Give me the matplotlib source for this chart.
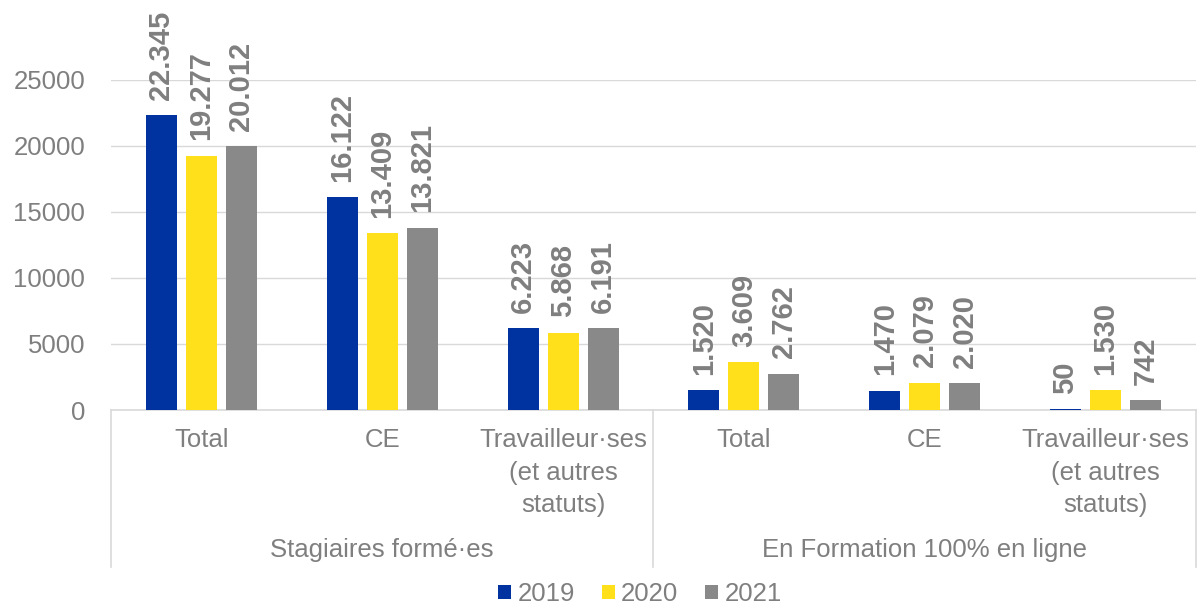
import matplotlib
matplotlib.use("Agg")
import matplotlib.pyplot as plt
import matplotlib.transforms as mtransforms
from matplotlib.patches import Patch
import numpy as np

plt.rcParams['font.family'] = ['Liberation Sans', 'DejaVu Sans']

categories = ["Total", "CE", "Travailleur·ses\n(et autres\nstatuts)",
              "Total", "CE", "Travailleur·ses\n(et autres\nstatuts)"]
groups = ["Stagiaires formé·es", "En Formation 100% en ligne"]
years = ["2019", "2020", "2021"]
v2019 = [22345, 16122, 6223, 1520, 1470, 50]
v2020 = [19277, 13409, 5868, 3609, 2079, 1530]
v2021 = [20012, 13821, 6191, 2762, 2020, 742]
labels2019 = ["22.345", "16.122", "6.223", "1.520", "1.470", "50"]
labels2020 = ["19.277", "13.409", "5.868", "3.609", "2.079", "1.530"]
labels2021 = ["20.012", "13.821", "6.191", "2.762", "2.020", "742"]
yticks = [0, 5000, 10000, 15000, 20000, 25000]

colors = ["#0033A0", "#FFE01B", "#898989"]
txt = "#7F7F7F"
grid = "#D9D9D9"

W, H = 1197, 606
fig = plt.figure(figsize=(W / 100, H / 100), dpi=100)
ax = fig.add_axes([111 / W, 1 - 410 / H, (1196 - 111) / W, 330 / H])

x = np.arange(len(categories))
step = 0.2214
bw = 0.1716
series = [v2019, v2020, v2021]
lbls = [labels2019, labels2020, labels2021]
for k, (vals, lab, c) in enumerate(zip(series, lbls, colors)):
    xs = x + (k - 1) * step
    ax.bar(xs, vals, width=bw, color=c, zorder=3, label=years[k])
    for xi, v, t in zip(xs, vals, lab):
        ax.annotate(t, (xi, v), xytext=(0, 11), textcoords="offset points",
                    rotation=90, ha="center", va="bottom", fontsize=21,
                    fontweight="bold", color=txt, annotation_clip=False)

ax.set_xlim(-0.5, len(categories) - 0.5)
ax.set_ylim(0, 25000)
ax.set_yticks(yticks)
ax.set_yticklabels([str(v) for v in yticks])
ax.yaxis.grid(True, color=grid, linewidth=1.0, zorder=0)
ax.set_axisbelow(True)
for s in ["top", "right", "left"]:
    ax.spines[s].set_visible(False)
ax.spines["bottom"].set_color(grid)
ax.spines["bottom"].set_linewidth(1.2)
ax.tick_params(axis="y", length=0, pad=18.5, labelsize=18.5, labelcolor=txt)
ax.set_xticks(x)
ax.set_xticklabels(categories, linespacing=1.45)
ax.tick_params(axis="x", length=0, pad=13, labelsize=18.5, labelcolor=txt)

trans = mtransforms.blended_transform_factory(ax.transData, ax.transAxes)
ybot = (410 - 567) / 330
for xv in [-0.5, 2.5, 5.5]:
    ax.plot([xv, xv], [0, ybot], color=grid, lw=1.2, transform=trans, clip_on=False)
ygl = (410 - 550) / 330
for gi, g in enumerate(groups):
    ax.text(1 + 3 * gi, ygl, g, transform=trans, ha="center", va="center",
            fontsize=18.5, color=txt)

handles = [Patch(facecolor=c, edgecolor="none", label=y) for c, y in zip(colors, years)]
fig.legend(handles=handles, loc="center", bbox_to_anchor=(640 / W, 1 - 594 / H),
           ncol=3, frameon=False, fontsize=18.5, labelcolor=txt,
           handlelength=0.5, handleheight=0.5, handletextpad=0.25,
           columnspacing=1.05, borderaxespad=0, borderpad=0)

fig.savefig("out.png", dpi=100)
